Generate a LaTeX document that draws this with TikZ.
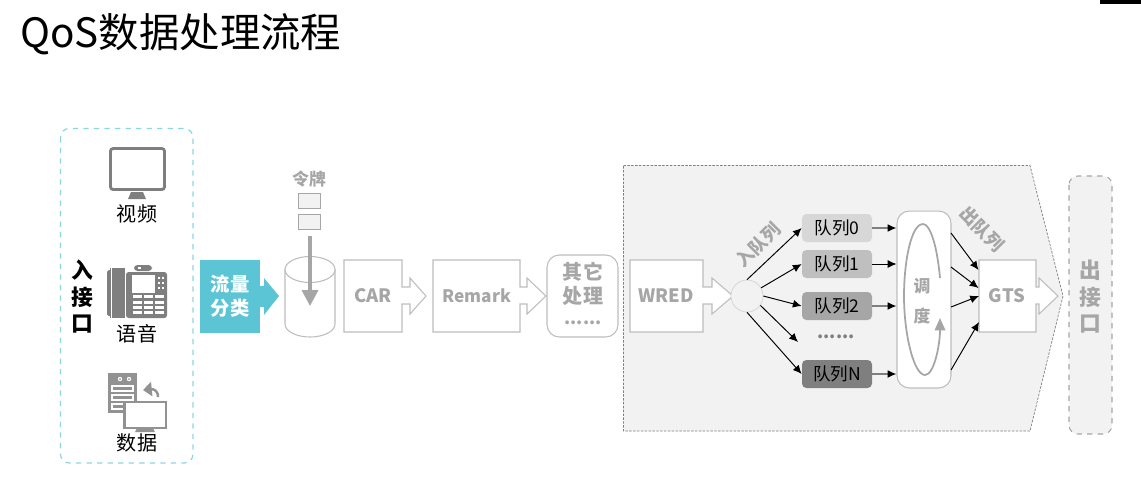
\documentclass[tikz,border=0pt]{standalone}
\usepackage{fontspec}
\setmainfont{Noto Sans CJK SC}
\usetikzlibrary{arrows.meta}
\definecolor{QoSCyan}{HTML}{5BC5D6}
\definecolor{QoSGray}{HTML}{A6A6A6}
\definecolor{QoSLine}{HTML}{BDBDBD}
\definecolor{QoSIcon}{HTML}{7F7F7F}
\definecolor{QoSPanel}{HTML}{F2F2F2}
\tikzset{
  blockline/.style={draw=QoSLine, fill=white, line width=0.6pt},
  graybold/.style={text=QoSGray, font=\bfseries\fontsize{10.5}{12}\selectfont, inner sep=0pt},
  plainlabel/.style={font=\fontsize{11.4}{13}\selectfont, inner sep=0pt},
  queuebox/.style={rounded corners=2.5pt, minimum width=1.4cm, minimum height=0.56cm, inner sep=0pt, font=\fontsize{10}{11}\selectfont},
  edgearrow/.style={line width=0.55pt, -{Latex[length=5pt,width=4.5pt]}},
  grayarrow/.style={line width=0.9pt, QoSIcon, -{Latex[black,length=5pt,width=4.5pt]}},
}
\begin{document}
\begin{tikzpicture}[x=0.02cm,y=-0.02cm]
\useasboundingbox (0,0) rectangle (1141,495);
\fill[black] (1100,0) rectangle (1141,4);
\node[anchor=west, inner sep=0pt, font=\fontsize{23}{26}\selectfont] (title) at (20,34) {QoS数据处理流程};
% input side
\draw[draw=QoSCyan!70, dashed, line width=0.7pt, rounded corners=5pt] (60.5,128.5) rectangle (193,463);
\node[font=\bfseries\fontsize{12.4}{14}\selectfont, inner sep=0pt] (inru) at (82,270) {入};
\node[font=\bfseries\fontsize{12.4}{14}\selectfont, inner sep=0pt] (injie) at (82,297) {接};
\node[font=\bfseries\fontsize{12.4}{14}\selectfont, inner sep=0pt] (inkou) at (82,324) {口};
% video icon
\draw[QoSIcon, line width=1.6pt, rounded corners=1.5pt] (110.5,148.5) rectangle (164.5,189.5);
\fill[QoSIcon] (131,192) -- (143,192) -- (146,199) -- (128,199) -- cycle;
\node[plainlabel] (video) at (137,214) {视频};
% phone icon
\fill[QoSIcon, rounded corners=1pt] (107,270) rectangle (113,316);
\fill[QoSIcon] (110,268) rectangle (125,318);
\fill[white] (111.3,268) rectangle (112.3,318);
\fill[QoSIcon, rounded corners=1.5pt] (126,272) rectangle (167,318);
\fill[QoSIcon, rounded corners=2pt] (134,265) rectangle (152,271);
\fill[white] (132,275) rectangle (155,293);
\fill[white] (138,267) rectangle (141,269);
\foreach \dy in {277,282,287} {
  \fill[white] (158,\dy) rectangle (160,\dy+2);
  \fill[white] (162,\dy) rectangle (164,\dy+2);
}
\foreach \cx in {133,144,155} {
  \foreach \cy in {295,301,306,311} {
    \fill[white] (\cx,\cy) rectangle (\cx+9,\cy+3.3);
  }
}
\node[plainlabel] (voice) at (137,334) {语音};
% data icon
\fill[QoSIcon!85] (108,373) rectangle (137,413);
\fill[white] (120,379) circle (2.2);
\fill[white] (129,379) circle (2.2);
\fill[QoSIcon!85] (120,379) circle (1);
\fill[QoSIcon!85] (129,379) circle (1);
\draw[white, line width=0.6pt] (112,386) rectangle (133,391);
\draw[white, line width=0.6pt] (112,395) rectangle (133,400);
\draw[white, line width=0.6pt] (112,404) rectangle (133,409);
\draw[QoSIcon!85, fill=white, line width=1.2pt] (124.5,402) rectangle (166,428);
\fill[QoSIcon!85] (137,428) -- (153,428) -- (155,432) -- (135,432) -- cycle;
\draw[QoSIcon!85, line width=1.4pt, -{Triangle[length=5pt,width=8pt]}] (158,397) .. controls (158,390) and (153,389) .. (143,390);
\node[plainlabel] (data) at (137,443) {数据};
% classify
\node[fill=QoSCyan, minimum width=1.2cm, minimum height=1.46cm, inner sep=0pt] (classbox) at (230,296) {};
\fill[QoSCyan] (260,286) -- (264,286) -- (264,278) -- (279,296) -- (264,315) -- (264,307) -- (260,307) -- cycle;
\node[text=white, font=\bfseries\fontsize{11}{13.6}\selectfont, align=center, inner sep=0pt] (classtext) at (230,296) {流量\\分类};
% token bucket
\node[text=QoSGray, font=\bfseries\fontsize{9.6}{11}\selectfont, inner sep=0pt] (token) at (309,179) {令牌};
\node[draw=QoSGray, fill=QoSPanel, line width=0.5pt, minimum width=0.44cm, minimum height=0.3cm, inner sep=0pt] (tokenA) at (309,200.5) {};
\node[draw=QoSGray, fill=QoSPanel, line width=0.5pt, minimum width=0.44cm, minimum height=0.3cm, inner sep=0pt] (tokenB) at (309,221.5) {};
\draw[blockline] (285,269.5) -- (285,324) arc (180:0:25 and 13) -- (335,269.5) -- cycle;
\draw[blockline] (310,269.5) ellipse (25 and 13);
\coordinate (dropA) at (310,236);
\coordinate (dropB) at (310,306);
\draw[QoSGray, line width=2pt, -{Triangle[length=9pt,width=9pt]}] (dropA) -- (dropB);
% blocks
\draw[blockline] (344,260) -- (402,260) -- (402,287) -- (410,287) -- (410,278) -- (426,296) -- (410,314) -- (410,304) -- (402,304) -- (402,332) -- (344,332) -- cycle;
\node[graybold] (car) at (373,296) {CAR};
\draw[blockline] (433,260) -- (520,260) -- (520,287) -- (527,287) -- (527,278) -- (546,296) -- (527,314) -- (527,304) -- (520,304) -- (520,332) -- (433,332) -- cycle;
\node[graybold, font=\bfseries\fontsize{9.8}{12}\selectfont] (remark) at (477,296) {Remark};
\node[draw=QoSLine, fill=white, line width=0.6pt, rounded corners=7pt, minimum width=1.42cm, minimum height=1.64cm, inner sep=0pt] (other) at (582.5,296) {};
\node[text=QoSGray, font=\bfseries\fontsize{11.4}{13.6}\selectfont, align=center, inner sep=0pt] (othertext) at (583,284) {其它\\处理};
\node[text=QoSGray, font=\bfseries\fontsize{10}{12}\selectfont, inner sep=0pt] (otherdots) at (583,323) {......};
% queue panel
\draw[draw=QoSIcon, fill=QoSPanel, dash pattern=on 1.4pt off 0.8pt, line width=0.4pt] (623.5,165.5) -- (1030,165.5) -- (1063,296) -- (1030,431) -- (623.5,431) -- cycle;
\draw[blockline] (630,260) -- (703,260) -- (703,287) -- (712,287) -- (712,278) -- (733,296) -- (712,314) -- (712,304) -- (703,304) -- (703,332) -- (630,332) -- cycle;
\node[graybold] (wred) at (666,296) {WRED};
\node[circle, draw=QoSGray!50, fill=QoSPanel, line width=0.4pt, minimum size=0.64cm, inner sep=0pt] (enq) at (747,296) {};
\node[text=QoSGray, rotate=45, font=\bfseries\fontsize{10.2}{11}\selectfont, inner sep=0pt] (enqtext) at (758,245) {入队列};
\node[queuebox, fill=QoSGray!45] (qzero) at (837,228) {队列0};
\node[queuebox, fill=QoSGray!72] (qone) at (837,264) {队列1};
\node[queuebox, fill=QoSGray] (qtwo) at (837,306) {队列2};
\node[text=QoSIcon, font=\bfseries\fontsize{10}{12}\selectfont, inner sep=0pt] (qdots) at (836,337) {......};
\node[queuebox, fill=QoSIcon] (qn) at (837,374) {队列N};
\coordinate (qdotsin) at (798,342);
\draw[edgearrow] (enq.90) -- (qzero.west);
\draw[edgearrow] (enq.30) -- (qone.west);
\draw[edgearrow] (enq.0) -- (qtwo.west);
\draw[edgearrow] (enq.-35) -- (qdotsin);
\draw[edgearrow] (enq.-90) -- (qn.west);
% scheduler
\node[draw=QoSLine, fill=white, line width=0.6pt, rounded corners=7pt, minimum width=1.08cm, minimum height=3.54cm, inner sep=0pt] (sched) at (924,299.5) {};
\draw[grayarrow] (qzero.east) -- (sched.west |- qzero.east);
\draw[edgearrow] (qone.east) -- (sched.west |- qone.east);
\draw[grayarrow] (qtwo.east) -- (sched.west |- qtwo.east);
\draw[grayarrow] (qn.east) -- (sched.west |- qn.east);
\draw[QoSGray, line width=1pt, -{Triangle[length=7pt,width=6pt]}] (940,278) .. controls (937,245) and (930,224) .. (923,224) .. controls (911,224) and (904,262) .. (904,296) .. controls (904,335) and (914,375) .. (925,375) .. controls (934,375) and (940,345) .. (940,318);
\node[text=QoSGray, font=\bfseries\fontsize{9.6}{11}\selectfont, inner sep=0pt] (schedA) at (922,286) {调};
\node[text=QoSGray, font=\bfseries\fontsize{9.6}{11}\selectfont, inner sep=0pt] (schedB) at (922,316) {度};
% gts
\draw[blockline] (979,260) -- (1036,260) -- (1036,287) -- (1039,287) -- (1039,278) -- (1058,296) -- (1039,314) -- (1039,304) -- (1036,304) -- (1036,332) -- (979,332) -- cycle;
\node[graybold] (gts) at (1007,296) {GTS};
\node[text=QoSGray, rotate=-45, font=\bfseries\fontsize{10.2}{11}\selectfont, inner sep=0pt] (deqtext) at (982,229) {出队列};
\coordinate (outA) at (951,233);
\coordinate (outB) at (951,267);
\coordinate (outC) at (951,307);
\coordinate (outD) at (951,370);
\coordinate (gtsA) at (978.5,270);
\coordinate (gtsB) at (978.5,288);
\coordinate (gtsC) at (979,296);
\coordinate (gtsD) at (979,322);
\draw[edgearrow] (outA) -- (gtsA);
\draw[edgearrow] (outB) -- (gtsB);
\draw[edgearrow] (outC) -- (gtsC);
\draw[edgearrow] (outD) -- (gtsD);
% output side
\draw[draw=QoSGray, fill=QoSPanel, dashed, line width=0.6pt, rounded corners=5pt] (1069,176) rectangle (1112,434);
\node[text=QoSGray, font=\bfseries\fontsize{12.4}{14}\selectfont, inner sep=0pt] (outchu) at (1090,270) {出};
\node[text=QoSGray, font=\bfseries\fontsize{12.4}{14}\selectfont, inner sep=0pt] (outjie) at (1090,297) {接};
\node[text=QoSGray, font=\bfseries\fontsize{12.4}{14}\selectfont, inner sep=0pt] (outkou) at (1090,324) {口};
\end{tikzpicture}
\end{document}
